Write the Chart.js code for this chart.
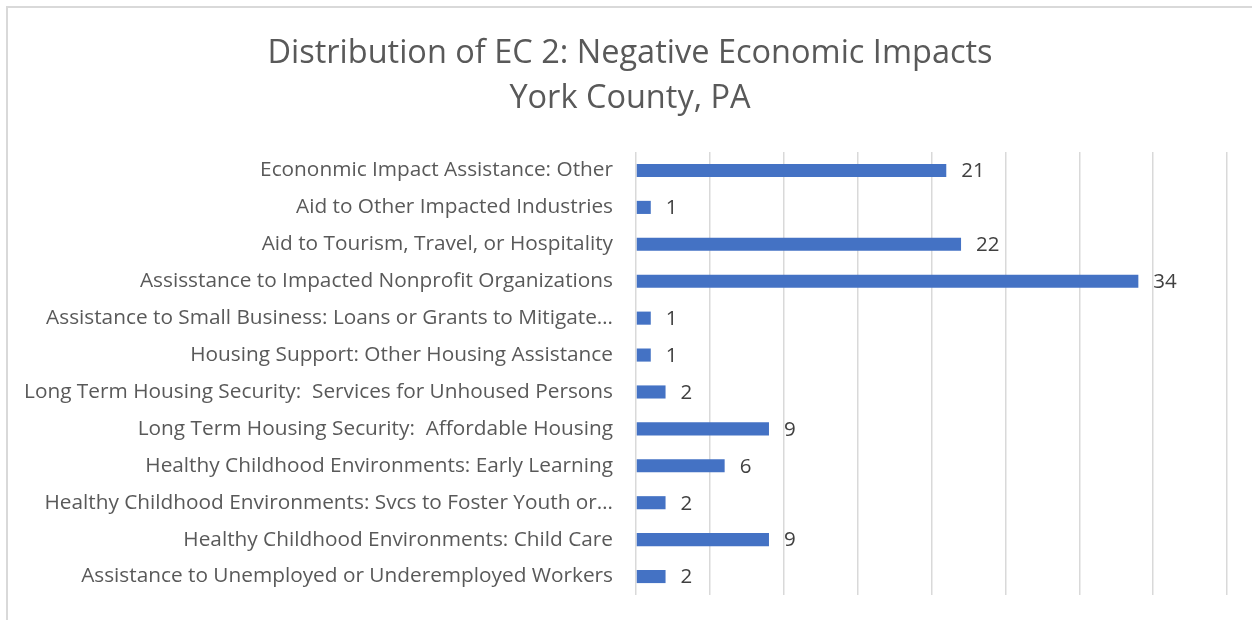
<!DOCTYPE html>
<html>
<head>
<meta charset="utf-8">
<script src="https://cdn.jsdelivr.net/npm/chart.js@4/dist/chart.umd.min.js"></script>
<style>
  html, body { margin: 0; padding: 0; background: #ffffff; width: 1252px; height: 620px; overflow: hidden; }
  #frame { position: absolute; left: 6px; top: 6px; width: 1300px; height: 700px; border-left: 2px solid #d9d9d9; border-top: 2px solid #d9d9d9; }
  #wrap { position: absolute; left: 8px; top: 8px; width: 1244px; height: 612px; }
</style>
</head>
<body>
<div id="frame"></div>
<div id="wrap"><canvas id="c" width="1244" height="612"></canvas></div>
<script>
const titleLines = ["Distribution of EC 2: Negative Economic Impacts", "York County, PA"];
const categories = [
  "Econonmic Impact Assistance: Other",
  "Aid to Other Impacted Industries",
  "Aid to Tourism, Travel, or Hospitality",
  "Assisstance to Impacted Nonprofit Organizations",
  "Assistance to Small Business: Loans or Grants to Mitigate\u2026",
  "Housing Support: Other Housing Assistance",
  "Long Term Housing Security:  Services for Unhoused Persons",
  "Long Term Housing Security:  Affordable Housing",
  "Healthy Childhood Environments: Early Learning",
  "Healthy Childhood Environments: Svcs to Foster Youth or\u2026",
  "Healthy Childhood Environments: Child Care",
  "Assistance to Unemployed or Underemployed Workers"
];
const values = [21, 1, 22, 34, 1, 1, 2, 9, 6, 2, 9, 2];
const axisMin = 0;
const axisMax = 40;
const axisStep = 5;

const FONT = "'Open Sans', 'Noto Sans', sans-serif";

const valueLabels = {
  id: 'valueLabels',
  afterDatasetsDraw(chart) {
    const ctx = chart.ctx;
    const meta = chart.getDatasetMeta(0);
    ctx.save();
    ctx.font = "20.5px " + FONT;
    ctx.fillStyle = '#404040';
    ctx.textAlign = 'left';
    ctx.textBaseline = 'middle';
    meta.data.forEach((bar, i) => {
      ctx.fillText(String(values[i]), bar.x + 15, bar.y + 1);
    });
    ctx.restore();
  }
};

new Chart(document.getElementById('c'), {
  type: 'bar',
  data: {
    labels: categories,
    datasets: [{
      data: values,
      backgroundColor: '#4472C4',
      borderWidth: 0,
      categoryPercentage: 1.0,
      barPercentage: 0.355
    }]
  },
  options: {
    indexAxis: 'y',
    responsive: false,
    animation: false,
    devicePixelRatio: 1,
    layout: { padding: { left: 0, right: 0, top: 0, bottom: 25 } },
    plugins: {
      legend: { display: false },
      tooltip: { enabled: false },
      title: {
        display: true,
        text: titleLines,
        color: '#595959',
        font: { family: FONT, size: 32.5, weight: 'normal', lineHeight: 1.385 },
        padding: { top: 23, bottom: 31 }
      }
    },
    scales: {
      x: {
        min: axisMin,
        max: axisMax,
        ticks: { display: false, stepSize: axisStep },
        grid: { color: '#d9d9d9', lineWidth: 1.5, drawTicks: false },
        border: { display: false }
      },
      y: {
        afterFit(scale) { scale.width = 628; scale.paddingTop = 0; scale.paddingBottom = 0; },
        ticks: {
          autoSkip: false,
          padding: 23,
          color: '#595959',
          font: { family: FONT, size: 20.8 }
        },
        grid: { display: false, drawTicks: false },
        border: { display: false }
      },
      spacer: {
        type: 'linear',
        position: 'right',
        display: true,
        afterFit(scale) { scale.width = 25; scale.paddingTop = 0; scale.paddingBottom = 0; },
        ticks: { display: false },
        grid: { display: false, drawTicks: false },
        border: { display: false }
      }
    }
  },
  plugins: [valueLabels]
});
</script>
</body>
</html>
